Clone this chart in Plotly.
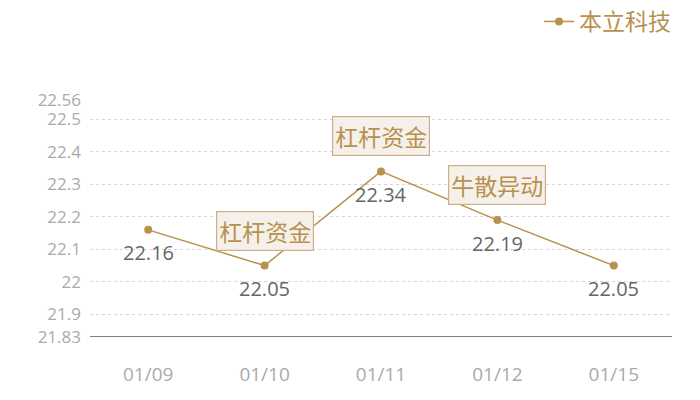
import plotly.graph_objects as go

dates = ["01/09", "01/10", "01/11", "01/12", "01/15"]
prices = [22.16, 22.05, 22.34, 22.19, 22.05]
price_labels = ["22.16", "22.05", "22.34", "22.19", "22.05"]
event_dates = ["01/10", "01/11", "01/12"]
event_prices = [22.05, 22.34, 22.19]
event_texts = ["杠杆资金", "杠杆资金", "牛散异动"]
tick_vals = [21.83, 21.9, 22.0, 22.1, 22.2, 22.3, 22.4, 22.5, 22.56]
tick_text = ["21.83", "21.9", "22", "22.1", "22.2", "22.3", "22.4", "22.5", "22.56"]
series_name = "本立科技"

GOLD = "#b8914f"
FONT = "Noto Sans CJK SC"
NUMFONT = "Open Sans"

fig = go.Figure()
fig.add_trace(go.Scatter(
    x=dates, y=prices, mode="lines+markers", name=series_name,
    line=dict(color=GOLD, width=1.5),
    marker=dict(color=GOLD, size=8),
))

for d, p, t in zip(dates, prices, price_labels):
    fig.add_annotation(x=d, y=p, text=t, showarrow=False, yshift=-23,
                       font=dict(family=NUMFONT, size=20, color="#666666"))

for d, p, t in zip(event_dates, event_prices, event_texts):
    fig.add_annotation(x=d, y=p, text=t, showarrow=False, yshift=35,
                       font=dict(family=FONT, size=23, color=GOLD),
                       bgcolor="#f5f0ea", bordercolor="#cdb087", borderwidth=1.2,
                       borderpad=2)

fig.update_layout(
    width=700, height=400,
    margin=dict(l=90, r=28, t=100, b=63),
    plot_bgcolor="white", paper_bgcolor="white",
    font=dict(family=FONT),
    showlegend=True,
    legend=dict(x=0.77, y=1.0, xref="container", yref="container",
                xanchor="left", yanchor="top", orientation="h",
                font=dict(family=FONT, size=23, color=GOLD),
                bgcolor="rgba(0,0,0,0)"),
    xaxis=dict(type="category", range=[-0.5, 4.5], showgrid=False,
               showline=False, ticks="", zeroline=False, automargin=False,
               tickfont=dict(family=NUMFONT, size=19, color="#aaaaaa"),
               ticklabelstandoff=24),
    yaxis=dict(range=[21.83, 22.56], tickvals=tick_vals, ticktext=tick_text,
               showgrid=True, gridcolor="#d6d6d6", griddash="dot", gridwidth=1,
               zeroline=False, showline=False, ticks="", automargin=False,
               tickfont=dict(family=NUMFONT, size=17, color="#aaaaaa"),
               ticklabelstandoff=8),
)

fig.add_shape(type="line", xref="paper", yref="y", x0=0, x1=1, y0=21.83, y1=21.83,
              line=dict(color="#000000", width=1))

fig.write_html("out.html", config={"displayModeBar": False},
               post_script="document.body.style.margin='0';")
